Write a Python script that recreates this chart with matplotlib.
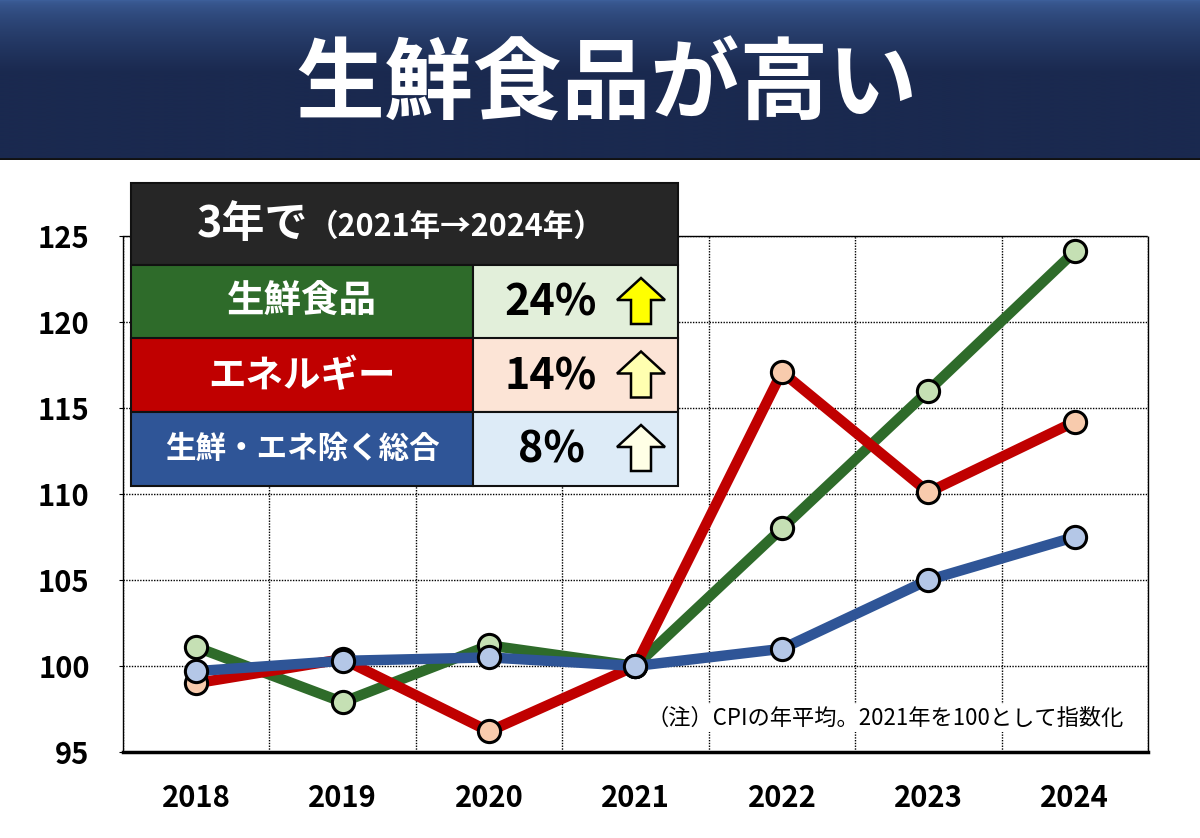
import numpy as np
import matplotlib.pyplot as plt
from matplotlib.patches import Rectangle, Polygon

plt.rcParams['font.family'] = ['Noto Sans CJK JP', 'DejaVu Sans']

years = ['2018', '2019', '2020', '2021', '2022', '2023', '2024']
fresh = [101.1, 97.9, 101.2, 100.0, 108.0, 116.0, 124.1]
energy = [99.0, 100.4, 96.2, 100.0, 117.1, 110.1, 114.2]
core = [99.7, 100.3, 100.5, 100.0, 101.0, 105.0, 107.5]
names = ['生鮮食品', 'エネルギー', '生鮮・エネ除く総合']
pcts = [24, 14, 8]
yticks = [95, 100, 105, 110, 115, 120, 125]

line_cols = ['#2e6b2a', '#c00000', '#2f5597']
mark_cols = ['#c5e0b4', '#f8cbad', '#b4c7e7']
cell_cols = ['#e2efda', '#fce4d6', '#ddebf7']
arrow_cols = ['#ffff00', '#ffffb0', '#ffffe6']

W, H = 1200, 838
fig = plt.figure(figsize=(12, 8.38), dpi=100)
fig.patch.set_facecolor('white')

# header band
hd = fig.add_axes([0, 1 - 160 / H, 1, 160 / H])
top = np.array([0x3d, 0x5f, 0x9a]) / 255
bot = np.array([0x1a, 0x29, 0x4f]) / 255
t = np.linspace(0, 1, 200)
t = np.clip(t * 2.2, 0, 1) ** 0.6
grad = top[None, :] * (1 - t[:, None]) + bot[None, :] * t[:, None]
hd.imshow(grad[:, None, :], aspect='auto', extent=[0, 1, 0, 1])
hd.axhline(0.005, color='#111111', lw=2)
hd.set_xlim(0, 1)
hd.set_ylim(0, 1)
hd.axis('off')
hd.text(0.505, 0.46, '生鮮食品が高い', color='white', fontsize=64,
        fontweight='bold', ha='center', va='center')

# chart
ax = fig.add_axes([123 / W, 1 - 752 / H, 1025 / W, 516 / H])
x = np.arange(len(years))
series = [fresh, energy, core]
for i, s in enumerate(series):
    ax.plot(x, s, color=line_cols[i], lw=7.5, zorder=3 + i,
            marker='o', markersize=16, markerfacecolor=mark_cols[i],
            markeredgecolor='black', markeredgewidth=2.2,
            solid_capstyle='round')

ax.set_xlim(-0.5, 6.5)
ax.set_ylim(95, 125)
ax.set_yticks(yticks)
ax.set_xticks(x)
ax.set_xticklabels(years)
ax.set_xticks(np.arange(-0.5, 7, 1), minor=True)
ax.grid(True, axis='y', which='major', color='black', ls=(0, (1, 1)), lw=1)
ax.grid(True, axis='x', which='minor', color='black', ls=(0, (1, 1)), lw=1)
ax.tick_params(axis='x', which='both', length=0, pad=22, labelsize=21)
ax.tick_params(axis='y', length=3, pad=21, labelsize=21)
for lb in ax.get_xticklabels() + ax.get_yticklabels():
    lb.set_fontweight('bold')
for sp in ['left', 'top', 'right']:
    ax.spines[sp].set_linestyle((0, (1, 1)))
    ax.spines[sp].set_linewidth(1)
ax.spines['bottom'].set_linewidth(2.5)

ax.text(0.976, 0.066, '（注）CPIの年平均。2021年を100として指数化',
        transform=ax.transAxes, ha='right', va='center', fontsize=16,
        bbox=dict(facecolor='white', edgecolor='none', pad=2), zorder=10)

# summary table
tb = fig.add_axes([0, 0, 1, 1], zorder=20)
tb.set_xlim(0, W)
tb.set_ylim(H, 0)
tb.axis('off')

x0, x1, x2 = 131, 473, 678
y_hdr, y_row = 183, 265
rh = 73.5
tb.add_patch(Rectangle((x0, y_hdr), x2 - x0, y_row - y_hdr,
                       facecolor='#262626', edgecolor='#111111', lw=1.5))
tb.text(197, 224, '3年で', color='white', fontsize=31, fontweight='bold',
        ha='left', va='center')
tb.text(308, 227, '（2021年→2024年）', color='white', fontsize=22,
        fontweight='bold', ha='left', va='center')

name_sizes = [27, 27, 22]
for i in range(3):
    yy = y_row + i * rh
    tb.add_patch(Rectangle((x0, yy), x1 - x0, rh, facecolor=line_cols[i],
                           edgecolor='#111111', lw=1.5))
    tb.add_patch(Rectangle((x1, yy), x2 - x1, rh, facecolor=cell_cols[i],
                           edgecolor='#111111', lw=1.5))
    tb.text((x0 + x1) / 2, yy + rh / 2, names[i], color='white',
            fontsize=name_sizes[i], fontweight='bold', ha='center', va='center')
    tb.text(551, yy + rh / 2 + 1, f'{pcts[i]}%', color='black', fontsize=31,
            fontweight='bold', ha='center', va='center')
    cx, ty, by = 641, yy + 13, yy + 59
    hw, sw, hh = 24, 10, 22
    pts = [(cx, ty), (cx + hw, ty + hh), (cx + sw, ty + hh), (cx + sw, by),
           (cx - sw, by), (cx - sw, ty + hh), (cx - hw, ty + hh)]
    tb.add_patch(Polygon(pts, closed=True, facecolor=arrow_cols[i],
                         edgecolor='black', lw=1.8, joinstyle='miter'))

fig.savefig('out.png', dpi=100, facecolor='white')
